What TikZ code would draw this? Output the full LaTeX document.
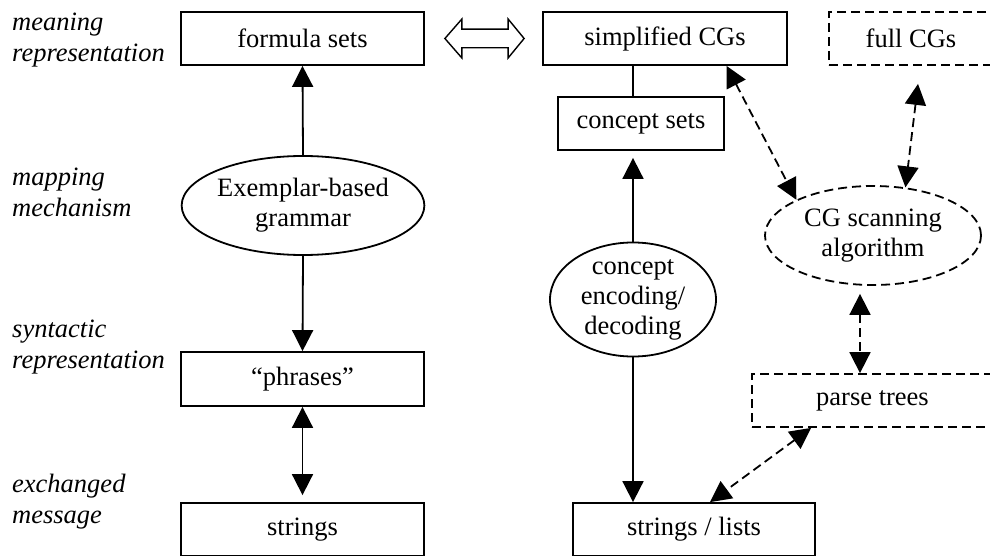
\documentclass[tikz,border=0pt]{standalone}
\usepackage{fontspec}
\setmainfont{Liberation Serif}
\usetikzlibrary{shapes.geometric,arrows.meta,calc}

\begin{document}
\begin{tikzpicture}[x=1pt,y=-1pt,
  every node/.style={font=\fontsize{26.5}{30}\selectfont},
  lbl/.style={font=\fontsize{26.5}{31}\selectfont\itshape, align=left, anchor=north west, inner sep=0pt},
  box/.style={draw, line width=1.8pt, rectangle, minimum height=53pt, inner sep=0pt},
  dbox/.style={box, dash pattern=on 9pt off 5pt},
  oval/.style={draw, line width=1.8pt, ellipse, inner sep=0pt, align=center},
  doval/.style={oval, dash pattern=on 9pt off 5pt},
  tip/.style={-{Triangle[length=21pt,width=21pt]}},
  tips/.style={{Triangle[length=21pt,width=21pt]}-{Triangle[length=21pt,width=21pt]}},
  link/.style={line width=1.8pt},
  dlink/.style={line width=1.8pt, dash pattern=on 9pt off 5pt},
]
\useasboundingbox (0,0) rectangle (990,556);

% level labels
\node[lbl] (l1) at (12,13) {meaning\\representation};
\node[lbl] (l2) at (12,168) {mapping\\mechanism};
\node[lbl] (l3) at (12,320) {syntactic\\representation};
\node[lbl] (l4) at (12,474) {exchanged\\message};

% left column
\node[box, minimum width=243pt] (fs) at (302.5,38.5) {formula sets};
\node[oval, minimum width=216pt, minimum height=99pt] (eg) at (303,205.5) {Exemplar-based\\grammar};
\node[box, minimum width=243pt, minimum height=54pt] (ph) at (302.5,379) {``phrases''};
\node[box, minimum width=243pt] (st) at (302.5,529.5) {strings};

% middle column
\node[box, minimum width=244pt] (scg) at (665,38.5) {simplified CGs};
\node[box, minimum width=166pt] (cs) at (641,123.5) {concept sets};
\node[oval, minimum width=166pt, minimum height=105pt] (ced) at (633,299.5) {concept\\encoding/\\decoding};
\node[box, minimum width=242pt] (sl) at (694,529.5) {strings / lists};

% right column
\node[dbox, minimum width=164pt] (fcg) at (911,38.5) {full CGs};
\node[doval, minimum width=216pt, minimum height=99pt] (cgs) at (873,235.5) {CG scanning\\algorithm};
\node[dbox, minimum width=241pt] (pt) at (872.5,400.5) {parse trees};

% hollow double arrow between the two meaning representations
\coordinate (hl) at ($(fs.east)+(20,0)$);
\coordinate (hr) at ($(scg.west)+(-18,0)$);
\draw[line width=1.4pt, line join=miter]
  (hl) -- ($(hl)+(17,-19.5)$) -- ($(hl)+(17,-9.3)$) -- ($(hr)+(-16,-9.3)$)
  -- ($(hr)+(-16,-19.5)$) -- (hr) -- ($(hr)+(-16,19.5)$) -- ($(hr)+(-16,9.3)$)
  -- ($(hl)+(17,9.3)$) -- ($(hl)+(17,19.5)$) -- cycle;

% solid connectors
\draw[link, tip] (eg.north) -- (fs.south);
\draw[link, tip] (eg.south) -- (ph.north);
\draw[link, tips, shorten <=7pt] (st.north) -- (ph.south);
\draw[link] (scg.south -| ced.north) -- (cs.north -| ced.north);
\draw[link, tip, shorten >=7pt] (ced.north) -- (cs.south -| ced.north);
\draw[link, tip] (ced.south) -- (sl.north -| ced.south);

% dashed connectors
\draw[dlink, tips] (scg.-24) -- (cgs.155);
\draw[dlink, tips] ($(fcg.south)+(7,18)$) -- (cgs.56);
\draw[dlink, tips] ($(cgs.south)+(-13,8)$) -- ($(pt.north)+(-12.5,0)$);
\draw[dlink, tips] ($(pt.south west)+(60,0)$) -- ($(sl.north)+(16,0)$);
\end{tikzpicture}
\end{document}
